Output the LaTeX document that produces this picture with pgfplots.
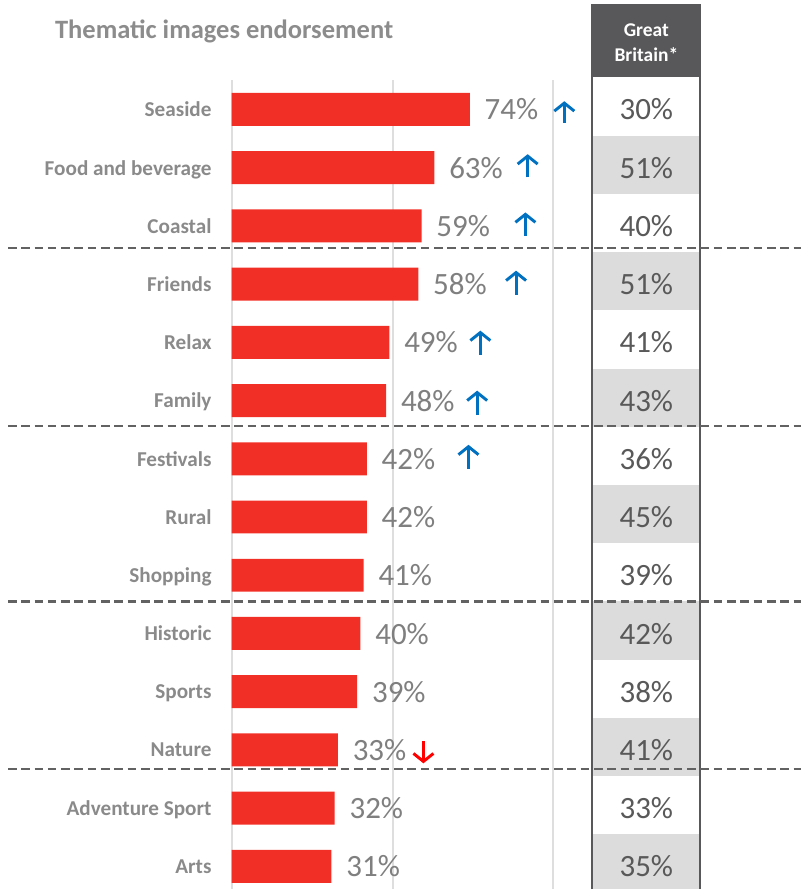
\documentclass[border=0pt]{standalone}
\usepackage{pgfplots}
\pgfplotsset{compat=1.18}
\usepackage{pgfplotstable}
\usepackage{fontspec}
\setmainfont{Carlito}
\usetikzlibrary{arrows.meta}
\definecolor{barred}{HTML}{F22F27}
\definecolor{valgray}{HTML}{7F7F7F}
\definecolor{catgray}{HTML}{8A8A8A}
\definecolor{titlegray}{HTML}{8C8C8C}
\definecolor{headgray}{HTML}{58585A}
\definecolor{tabtext}{HTML}{595959}
\definecolor{cellgray}{HTML}{DCDCDC}
\definecolor{gridgray}{HTML}{DEDEDE}
\definecolor{dashgray}{HTML}{626262}
\definecolor{arrowblue}{HTML}{0070C0}
\definecolor{arrowred}{HTML}{FF0000}

\pgfplotstableread{
y val gb
0 74 30
1 63 51
2 59 40
3 58 51
4 49 41
5 48 43
6 42 36
7 42 45
8 41 39
9 40 42
10 39 38
11 33 41
12 32 33
13 31 35
}\data

\pgfplotstableread{
x y v
103.4 0.23 -0.37
92.0 1.17 -0.40
91.3 2.17 -0.40
88.4 3.18 -0.41
77.3 4.22 -0.42
76.3 5.25 -0.42
73.6 6.17 -0.41
}\uparrows

\pgfplotstableread{
x y v
59.6 10.85 0.38
}\downarrows

\begin{document}
\begin{tikzpicture}
\begin{axis}[
  scale only axis, width=241.5pt, height=667.5pt,
  xmin=0, xmax=100, ymin=-1.878, ymax=13.388, y dir=reverse,
  /pgf/number format/assume math mode=true,
  axis line style={draw=none}, major tick length=0pt, xtick=\empty,
  ytick={0,...,13},
  yticklabels={Seaside,Food and beverage,Coastal,Friends,Relax,Family,Festivals,Rural,Shopping,Historic,Sports,Nature,Adventure Sport,Arts},
  yticklabel style={font=\fontsize{15.9}{18}\selectfont\bfseries, text=catgray, inner sep=0pt, xshift=-15pt, text depth=0pt},
  clip=false,
]
% bounding box
\path (axis cs:-72.05,-1.878) rectangle (axis cs:177.02,13.388);
% gridlines
\draw[gridgray, line width=1.5pt] (axis cs:0,-0.506) -- (axis cs:0,13.388);
\draw[gridgray, line width=1.5pt] (axis cs:50,-0.506) -- (axis cs:50,13.388);
\draw[gridgray, line width=1.5pt] (axis cs:100,-0.506) -- (axis cs:100,13.388);
% table cells
\fill[cellgray] (axis cs:112.1,0.45) rectangle (axis cs:145.65,1.45);
\fill[cellgray] (axis cs:112.1,2.45) rectangle (axis cs:145.65,3.45);
\fill[cellgray] (axis cs:112.1,4.45) rectangle (axis cs:145.65,5.45);
\fill[cellgray] (axis cs:112.1,6.45) rectangle (axis cs:145.65,7.45);
\fill[cellgray] (axis cs:112.1,8.45) rectangle (axis cs:145.65,9.45);
\fill[cellgray] (axis cs:112.1,10.45) rectangle (axis cs:145.65,11.45);
\fill[cellgray] (axis cs:112.1,12.45) rectangle (axis cs:145.65,13.388);
\fill[headgray] (axis cs:112.1,-1.79) rectangle (axis cs:145.65,-0.55);
\draw[headgray, line width=1.5pt] (axis cs:112.1,13.388) -- (axis cs:112.1,-1.79) -- (axis cs:145.65,-1.79) -- (axis cs:145.65,13.388);
% bars
\addplot[xbar, bar width=24.75pt, fill=barred, draw=none,
  point meta=x,
  nodes near coords={\pgfmathprintnumber{\pgfplotspointmeta}\%},
  nodes near coords style={anchor=west, inner sep=0pt, xshift=11pt, text=valgray, font=\fontsize{23.25}{28}\selectfont, text depth=0pt}]
  table[x=val, y=y] {\data};
% GB column
\addplot[draw=none, mark=none,
  point meta=\thisrow{gb},
  nodes near coords={\pgfmathprintnumber{\pgfplotspointmeta}\%},
  nodes near coords style={anchor=center, inner sep=0pt, text=tabtext, font=\fontsize{23.25}{28}\selectfont, text depth=0pt}]
  table[x expr=128.9, y=y] {\data};
% arrows
\addplot[arrowblue, line width=2.2pt, mark=none,
  quiver={u=0, v=\thisrow{v}},
  -{Straight Barb[length=6pt, width=15pt]}]
  table[x=x, y=y] {\uparrows};
\addplot[arrowred, line width=2.2pt, mark=none,
  quiver={u=0, v=\thisrow{v}},
  -{Straight Barb[length=6pt, width=15pt]}]
  table[x=x, y=y] {\downarrows};
% dashed separators
\draw[dashgray, line width=1.6pt, dash pattern=on 6.5pt off 3.5pt] (axis cs:-69.6,2.38) -- (axis cs:177.02,2.38);
\draw[dashgray, line width=1.6pt, dash pattern=on 6.5pt off 3.5pt] (axis cs:-69.6,5.43) -- (axis cs:177.02,5.43);
\draw[dashgray, line width=1.6pt, dash pattern=on 6.5pt off 3.5pt] (axis cs:-69.6,8.45) -- (axis cs:177.02,8.45);
\draw[dashgray, line width=1.6pt, dash pattern=on 6.5pt off 3.5pt] (axis cs:-69.6,11.33) -- (axis cs:177.02,11.33);
% titles
\node[anchor=base west, inner sep=0pt, text=titlegray, font=\fontsize{19.9}{24}\selectfont\bfseries] at (axis cs:-55,-1.209) {Thematic images endorsement};
\node[anchor=base, inner sep=0pt, text=white, font=\fontsize{14.6}{17}\selectfont\bfseries] at (axis cs:128.9,-1.2436) {Great};
\node[anchor=base, inner sep=0pt, text=white, font=\fontsize{14.6}{17}\selectfont\bfseries] at (axis cs:128.9,-0.82) {Britain*};
\end{axis}
\end{tikzpicture}
\end{document}
